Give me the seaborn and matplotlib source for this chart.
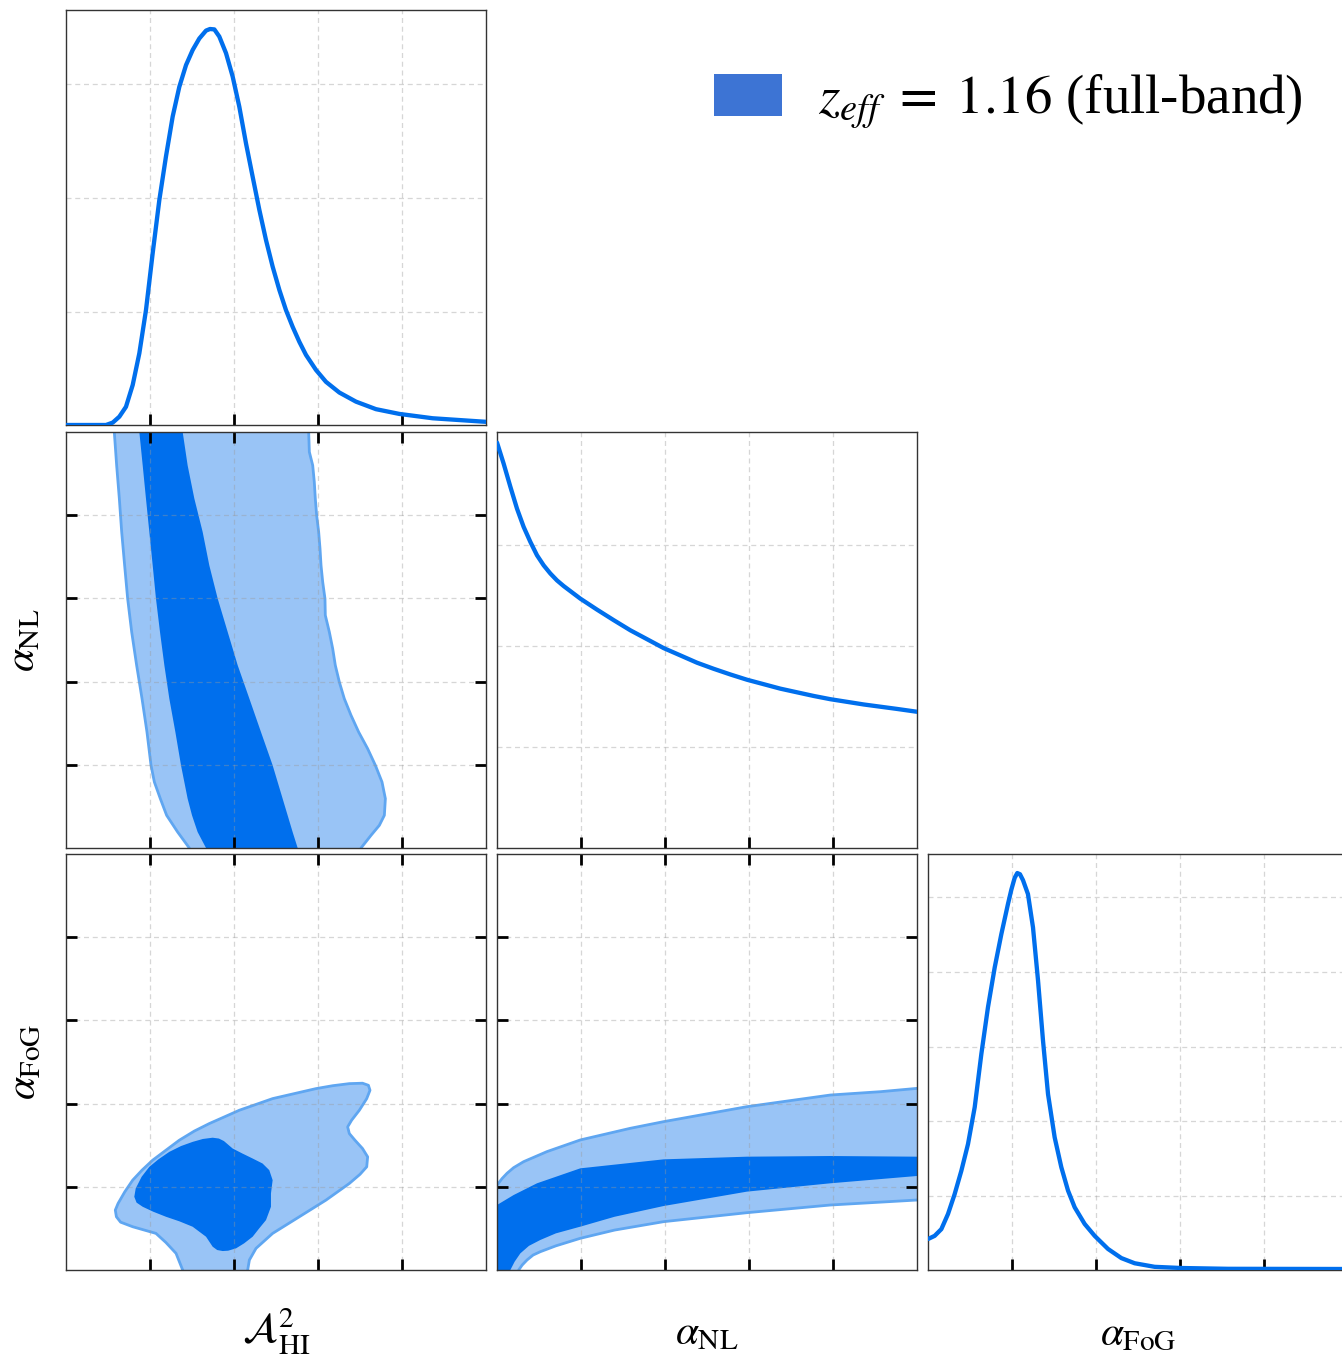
import matplotlib
matplotlib.use("Agg")
import matplotlib.pyplot as plt
from matplotlib.patches import Patch
import seaborn as sns

sns.set_style("white")
plt.rcParams["font.family"] = ["Liberation Serif", "DejaVu Serif"]
plt.rcParams["mathtext.fontset"] = "stix"
plt.rcParams["text.color"] = "black"
plt.rcParams["axes.labelcolor"] = "black"

# ---- parameter labels ----
param_labels = [r"$\mathcal{A}^2_{\rm HI}$", r"$\alpha_{\rm NL}$", r"$\alpha_{\rm FoG}$"]
legend_label = r"$z_{eff}\;=\;1.16$ (full-band)"
axis_ticks = [1, 2, 3, 4]

# ---- 1D marginals (relative probability, peak = 1) ----
a_hi_x = [0, 0.476, 0.556, 0.635, 0.714, 0.794, 0.873, 0.952, 1.032, 1.111, 1.190,
          1.270, 1.349, 1.429, 1.508, 1.587, 1.667, 1.714, 1.766, 1.825, 1.905, 1.984,
          2.063, 2.143, 2.222, 2.302, 2.381, 2.460, 2.540, 2.619, 2.698, 2.778, 2.857,
          2.976, 3.095, 3.254, 3.452, 3.690, 3.968, 4.365, 5.0]
a_hi_p = [0, 0, 0.006, 0.021, 0.046, 0.101, 0.181, 0.290, 0.434, 0.568, 0.678,
          0.779, 0.854, 0.909, 0.947, 0.976, 0.996, 1.0, 0.999, 0.981, 0.939, 0.880,
          0.804, 0.711, 0.627, 0.543, 0.467, 0.400, 0.341, 0.290, 0.248, 0.210, 0.177,
          0.139, 0.109, 0.082, 0.059, 0.040, 0.028, 0.017, 0.008]

a_nl_x = [0, 0.079, 0.159, 0.238, 0.317, 0.397, 0.476, 0.556, 0.635, 0.714, 0.794,
          0.992, 1.190, 1.389, 1.587, 1.786, 1.984, 2.183, 2.381, 2.579, 2.778, 2.976,
          3.175, 3.373, 3.571, 3.770, 3.968, 4.365, 4.762, 5.0]
a_nl_p = [1.0, 0.948, 0.891, 0.837, 0.792, 0.755, 0.722, 0.697, 0.677, 0.660, 0.646,
          0.615, 0.588, 0.562, 0.537, 0.515, 0.493, 0.475, 0.457, 0.442, 0.428, 0.415,
          0.404, 0.393, 0.384, 0.375, 0.367, 0.354, 0.343, 0.336]

a_fog_x = [0, 0.079, 0.159, 0.238, 0.317, 0.397, 0.476, 0.556, 0.635, 0.714, 0.794,
           0.873, 0.952, 0.992, 1.032, 1.063, 1.095, 1.131, 1.190, 1.250, 1.310, 1.369,
           1.429, 1.508, 1.587, 1.667, 1.746, 1.865, 1.984, 2.143, 2.302, 2.460, 2.698,
           3.016, 3.571, 5.0]
a_fog_p = [0.078, 0.086, 0.103, 0.141, 0.191, 0.250, 0.317, 0.410, 0.544, 0.662, 0.762,
           0.846, 0.922, 0.958, 0.988, 1.0, 0.997, 0.982, 0.947, 0.863, 0.729, 0.578,
           0.443, 0.334, 0.259, 0.200, 0.158, 0.116, 0.086, 0.053, 0.030, 0.017, 0.008,
           0.005, 0.003, 0.0025]

# ---- 2D: A_HI vs alpha_NL (open contours, left/right boundaries) ----
nl_outer_left_x = [0.575, 0.603, 0.635, 0.663, 0.698, 0.734, 0.782, 0.841, 0.905, 0.964,
                   1.012, 1.052, 1.123, 1.198, 1.329, 1.468]
nl_outer_left_y = [5.0, 4.599, 4.199, 3.798, 3.397, 2.997, 2.596, 2.196, 1.795, 1.394,
                   0.994, 0.793, 0.593, 0.393, 0.192, 0.0]
nl_outer_right_x = [2.889, 2.897, 2.937, 2.956, 2.968, 2.984, 3.008, 3.024, 3.036, 3.056,
                    3.083, 3.087, 3.135, 3.175, 3.206, 3.254, 3.313, 3.393, 3.484, 3.591,
                    3.683, 3.762, 3.802, 3.790, 3.730, 3.631, 3.512]
nl_outer_right_y = [5.0, 4.760, 4.599, 4.399, 4.199, 3.998, 3.798, 3.598, 3.397, 3.197,
                    2.997, 2.797, 2.596, 2.396, 2.196, 1.995, 1.795, 1.595, 1.394, 1.194,
                    0.994, 0.793, 0.593, 0.393, 0.272, 0.152, 0.0]
nl_inner_left_x = [0.873, 0.913, 0.952, 0.992, 1.032, 1.071, 1.119, 1.171, 1.230, 1.302,
                   1.369, 1.448, 1.500, 1.567, 1.667]
nl_inner_left_y = [5.0, 4.599, 4.199, 3.798, 3.397, 2.997, 2.596, 2.196, 1.795, 1.394,
                   0.994, 0.593, 0.393, 0.192, 0.0]
nl_inner_right_x = [1.389, 1.448, 1.528, 1.627, 1.706, 1.806, 1.925, 2.044, 2.183, 2.321,
                    2.460, 2.579, 2.698, 2.758]
nl_inner_right_y = [5.0, 4.599, 4.199, 3.798, 3.397, 2.997, 2.596, 2.196, 1.795, 1.394,
                    0.994, 0.593, 0.192, 0.0]

# ---- 2D: A_HI vs alpha_FoG (closed contours) ----
fog_outer_x = [1.40, 1.389, 1.310, 1.190, 1.071, 0.794, 0.650, 0.600, 0.587, 0.620, 0.700,
               0.794, 0.905, 1.032, 1.190, 1.349, 1.528, 1.706, 1.885, 2.063, 2.262, 2.460,
               2.718, 2.976, 3.175, 3.373, 3.530, 3.600, 3.619, 3.580, 3.492, 3.400, 3.353,
               3.373, 3.440, 3.530, 3.591, 3.580, 3.500, 3.373, 3.095, 2.778, 2.460, 2.262,
               2.183, 2.163, 2.16]
fog_outer_y = [-0.1, 0.0, 0.20, 0.33, 0.44, 0.52, 0.575, 0.640, 0.72, 0.80, 0.94,
               1.08, 1.20, 1.32, 1.44, 1.56, 1.67, 1.76, 1.84, 1.92, 1.99, 2.06,
               2.12, 2.18, 2.215, 2.24, 2.245, 2.22, 2.16, 2.06, 1.92, 1.80, 1.72,
               1.64, 1.56, 1.46, 1.36, 1.24, 1.15, 1.04, 0.84, 0.64, 0.44, 0.26,
               0.12, 0.0, -0.1]
fog_inner_x = [0.813, 0.830, 0.900, 0.992, 1.100, 1.230, 1.370, 1.508, 1.630, 1.746, 1.820,
               1.880, 1.984, 2.100, 2.222, 2.340, 2.420, 2.460, 2.450, 2.440, 2.440, 2.381,
               2.300, 2.222, 2.120, 2.024, 1.930, 1.865, 1.800, 1.746, 1.667, 1.508, 1.350,
               1.190, 1.040, 0.913, 0.840]
fog_inner_y = [0.88, 0.98, 1.12, 1.24, 1.33, 1.42, 1.49, 1.54, 1.575, 1.59, 1.58,
               1.55, 1.46, 1.40, 1.34, 1.28, 1.20, 1.08, 1.00, 0.92, 0.76, 0.60,
               0.50, 0.40, 0.32, 0.26, 0.232, 0.228, 0.24, 0.28, 0.40, 0.52, 0.585,
               0.64, 0.70, 0.76, 0.81]

# ---- 2D: alpha_NL vs alpha_FoG (open bands, upper/lower boundaries) ----
band_outer_up_x = [0, 0.060, 0.119, 0.198, 0.317, 0.595, 0.992, 1.587, 1.984, 2.976, 3.968, 4.563, 5.0]
band_outer_up_y = [1.019, 1.099, 1.162, 1.230, 1.302, 1.423, 1.563, 1.703, 1.783, 1.963, 2.103, 2.143, 2.183]
band_outer_lo_x = [0.258, 0.300, 0.357, 0.430, 0.516, 0.700, 0.992, 1.400, 1.984, 2.976, 3.968, 5.0]
band_outer_lo_y = [0.0, 0.060, 0.120, 0.180, 0.220, 0.290, 0.381, 0.480, 0.581, 0.689, 0.781, 0.841]
band_inner_up_x = [0, 0.198, 0.476, 0.992, 1.984, 2.976, 3.968, 5.0]
band_inner_up_y = [0.781, 0.901, 1.042, 1.222, 1.330, 1.362, 1.370, 1.362]
band_inner_lo_x = [0.159, 0.210, 0.278, 0.380, 0.516, 0.700, 0.992, 1.400, 1.984, 2.976, 3.968, 5.0]
band_inner_lo_y = [0.0, 0.100, 0.200, 0.290, 0.361, 0.440, 0.521, 0.640, 0.769, 0.942, 1.042, 1.130]

# ---- styling ----
C_DARK = "#006FED"
C_LIGHT = "#99C4F6"
C_EDGE = "#5FA6F1"
C_LEG = "#3D74D4"

W, H = 1342, 1355
fig = plt.figure(figsize=(W / 100, H / 100), dpi=100)

col_left = [66, 497, 928]
col_w = 420
row_span = [(10, 425), (432, 848), (854, 1270)]


def make_ax(r, c):
    top, bot = row_span[r]
    return fig.add_axes([col_left[c] / W, 1 - bot / H, col_w / W, (bot - top) / H])


def style(ax, two_d, yticks):
    ax.set_xlim(0, 5)
    ax.set_xticks(axis_ticks)
    ax.set_yticks(yticks)
    ax.tick_params(direction="in", length=8, width=2, color="black",
                   bottom=True, top=two_d, left=two_d, right=two_d,
                   labelbottom=False, labelleft=False)
    ax.grid(True, color="#9a9a9a", alpha=0.4, lw=0.9, ls=(0, (4, 3)))
    ax.set_axisbelow("line")
    for sp in ax.spines.values():
        sp.set_color("#333333")
        sp.set_linewidth(1.0)
    ax.set_xlabel("")
    ax.set_ylabel("")


def curve(ax, x, y):
    sns.lineplot(x=x, y=y, ax=ax, color=C_DARK, lw=3.1, zorder=3)


# 1D panels
ax11 = make_ax(0, 0)
curve(ax11, a_hi_x, a_hi_p)
ax11.set_ylim(0, 1.048)
style(ax11, False, [0.2845, 0.572, 0.861])

ax22 = make_ax(1, 1)
curve(ax22, a_nl_x, a_nl_p)
ax22.set_ylim(0, 1.026)
style(ax22, False, [0.249, 0.4975, 0.747])

ax33 = make_ax(2, 2)
curve(ax33, a_fog_x, a_fog_p)
ax33.set_ylim(0, 1.048)
style(ax33, False, [0.187, 0.375, 0.563, 0.751, 0.940])

# A_HI vs alpha_NL
ax21 = make_ax(1, 0)
ax21.fill(nl_outer_left_x + nl_outer_right_x[::-1], nl_outer_left_y + nl_outer_right_y[::-1],
          color=C_LIGHT, lw=0, zorder=1)
ax21.plot(nl_outer_left_x, nl_outer_left_y, color=C_EDGE, lw=2, zorder=1.2)
ax21.plot(nl_outer_right_x, nl_outer_right_y, color=C_EDGE, lw=2, zorder=1.2)
ax21.fill(nl_inner_left_x + nl_inner_right_x[::-1], nl_inner_left_y + nl_inner_right_y[::-1],
          color=C_DARK, lw=0, zorder=1.3)
ax21.set_ylim(0, 5)
style(ax21, True, axis_ticks)

# A_HI vs alpha_FoG
ax31 = make_ax(2, 0)
ax31.fill(fog_outer_x, fog_outer_y, facecolor=C_LIGHT, edgecolor=C_EDGE, lw=2,
          joinstyle="round", zorder=1)
ax31.fill(fog_inner_x, fog_inner_y, facecolor=C_DARK, edgecolor="none", zorder=1.3)
ax31.set_ylim(0, 5)
style(ax31, True, axis_ticks)

# alpha_NL vs alpha_FoG
ax32 = make_ax(2, 1)
ax32.fill(band_outer_up_x + band_outer_lo_x[::-1] + [0],
          band_outer_up_y + band_outer_lo_y[::-1] + [0],
          color=C_LIGHT, lw=0, zorder=1)
ax32.plot(band_outer_up_x, band_outer_up_y, color=C_EDGE, lw=2, zorder=1.2)
ax32.plot(band_outer_lo_x, band_outer_lo_y, color=C_EDGE, lw=2, zorder=1.2)
ax32.fill(band_inner_up_x + band_inner_lo_x[::-1] + [0],
          band_inner_up_y + band_inner_lo_y[::-1] + [0],
          color=C_DARK, lw=0, zorder=1.3)
ax32.set_ylim(0, 5)
style(ax32, True, axis_ticks)

# axis labels: shared baseline under the bottom row
for ax, lab in zip([ax31, ax32, ax33], param_labels):
    ax.set_xlabel(lab, fontsize=30, va="baseline")
    ax.xaxis.set_label_coords(0.5, -0.178)
for ax, lab in zip([ax21, ax31], param_labels[1:]):
    ax.set_ylabel(lab, fontsize=30)
    ax.yaxis.set_label_coords(-0.055, 0.5)

# legend
fs = 39.5
fpx = fs * 100 / 72
fig.legend(handles=[Patch(facecolor=C_LEG, edgecolor="none")], labels=[legend_label],
           loc="center left", bbox_to_anchor=(714 / W, 1 - 102 / H),
           frameon=False, fontsize=fs, borderpad=0, borderaxespad=0,
           handlelength=68 / fpx, handleheight=43 / fpx, handletextpad=36 / fpx)

fig.savefig("out.png", dpi=100)
